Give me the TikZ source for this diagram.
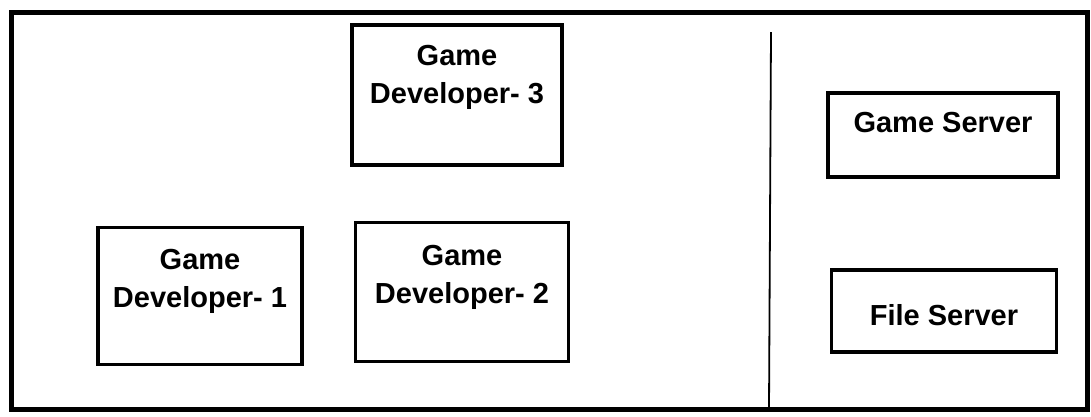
\documentclass[tikz,border=0pt]{standalone}
\usepackage{fontspec}
\setsansfont{Liberation Sans}
\usepackage{tikz}

\begin{document}
\begin{tikzpicture}[
        x=1pt, y=-1pt,
        box/.style={rectangle, draw, line width=3.5pt, inner sep=0pt, align=center,
            font=\sffamily\bfseries\fontsize{29}{38}\selectfont},
        devbox/.style={box, minimum width=207pt, minimum height=138pt}
    ]
        \useasboundingbox (0,0) rectangle (1091,416);

        % Frame and divider
        \draw[line width=5pt] (11,12) rectangle (1087,409);
        \draw[line width=1.8pt] (771,32) -- (769,409);

        % Developers
        \node[devbox, minimum width=210pt, minimum height=140pt, text depth=41pt] (dev3) at (457,95) {Game\\Developer- 3};
        \node[devbox, minimum width=204pt, minimum height=137pt, text depth=36pt] (dev1) at (200,296) {Game\\Developer- 1};
        \node[devbox, minimum width=213pt, minimum height=139pt, text depth=36pt] (dev2) at (462,292) {Game\\Developer- 2};

        % Servers
        \node[box, minimum width=230pt, minimum height=84pt, text depth=26pt] (gserver) at (943,135) {Game Server};
        \node[box, minimum width=225pt, minimum height=82pt, text height=29pt] (fserver) at (944,311) {File Server};

    \end{tikzpicture}
\end{document}
